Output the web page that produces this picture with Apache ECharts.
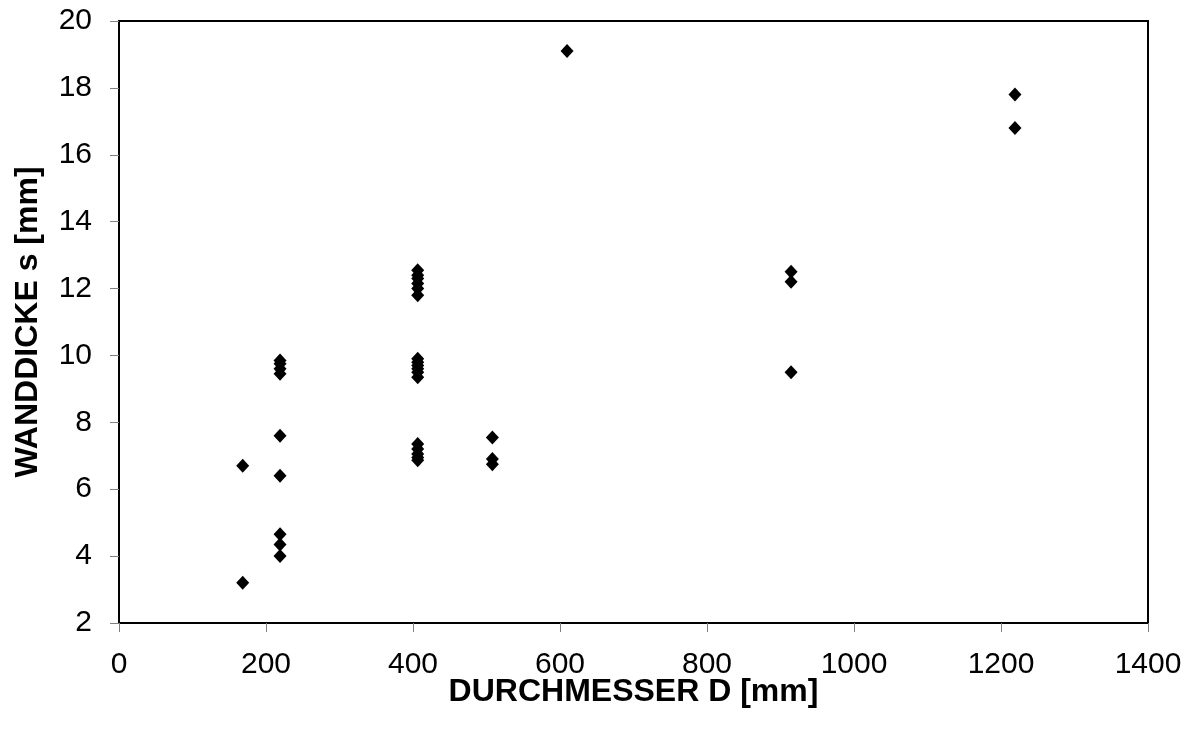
<!DOCTYPE html>
<html><head><meta charset="utf-8">
<script src="https://cdn.jsdelivr.net/npm/echarts@6/dist/echarts.min.js"></script>
<style>html,body{margin:0;padding:0;background:#fff}#c{width:1194px;height:731px}</style>
</head><body><div id="c"></div>
<script>
const diameters = [168.3, 168.3,
  219.1, 219.1, 219.1, 219.1, 219.1, 219.1, 219.1, 219.1, 219.1,
  406.4, 406.4, 406.4, 406.4, 406.4, 406.4,
  406.4, 406.4, 406.4, 406.4, 406.4, 406.4,
  406.4, 406.4, 406.4, 406.4, 406.4,
  508, 508, 508,
  609.6,
  914.4, 914.4, 914.4,
  1219, 1219];
const wallThickness = [6.7, 3.2,
  9.85, 9.75, 9.6, 9.45, 7.6, 6.4, 4.65, 4.35, 4.0,
  12.55, 12.4, 12.3, 12.15, 12.0, 11.8,
  9.9, 9.8, 9.7, 9.6, 9.5, 9.35,
  7.35, 7.2, 7.05, 6.95, 6.87,
  7.55, 6.9, 6.75,
  19.1,
  12.5, 12.2, 9.5,
  17.8, 16.8];
const xTitle = 'DURCHMESSER D [mm]';
const yTitle = 'WANDDICKE s [mm]';

const points = diameters.map((d, i) => [d, wallThickness[i]]);
const chart = echarts.init(document.getElementById('c'));
const font = 'Liberation Sans, Arial, sans-serif';
chart.setOption({
  animation: false,
  grid: {left: 119, right: 46, top: 21, bottom: 108, show: true, borderColor: '#000', borderWidth: 2, backgroundColor: '#fff'},
  xAxis: {
    type: 'value', min: 0, max: 1400, interval: 200,
    name: xTitle, nameLocation: 'middle', nameGap: 53, nameMoveOverlap: false,
    nameTextStyle: {fontFamily: font, fontWeight: 'bold', fontSize: 32, color: '#000'},
    axisLine: {show: true, onZero: false, lineStyle: {color: '#000', width: 2}},
    axisTick: {show: true, inside: false, length: 9, lineStyle: {color: '#808080', width: 1}},
    axisLabel: {fontFamily: font, fontSize: 30, color: '#000', margin: 27, formatter: v => String(v)},
    splitLine: {show: false}
  },
  yAxis: {
    type: 'value', min: 2, max: 20, interval: 2,
    name: yTitle, nameLocation: 'middle', nameGap: 75, nameRotate: 90, nameMoveOverlap: false,
    nameTextStyle: {fontFamily: font, fontWeight: 'bold', fontSize: 32, color: '#000'},
    axisLine: {show: true, onZero: false, lineStyle: {color: '#000', width: 2}},
    axisTick: {show: true, inside: false, length: 9, lineStyle: {color: '#808080', width: 1}},
    axisLabel: {fontFamily: font, fontSize: 30, color: '#000', margin: 27, formatter: v => String(v)},
    splitLine: {show: false}
  },
  series: [{
    type: 'scatter', data: points, symbol: 'diamond', symbolSize: [13, 14],
    itemStyle: {color: '#000', opacity: 1}
  }]
});
</script></body></html>
